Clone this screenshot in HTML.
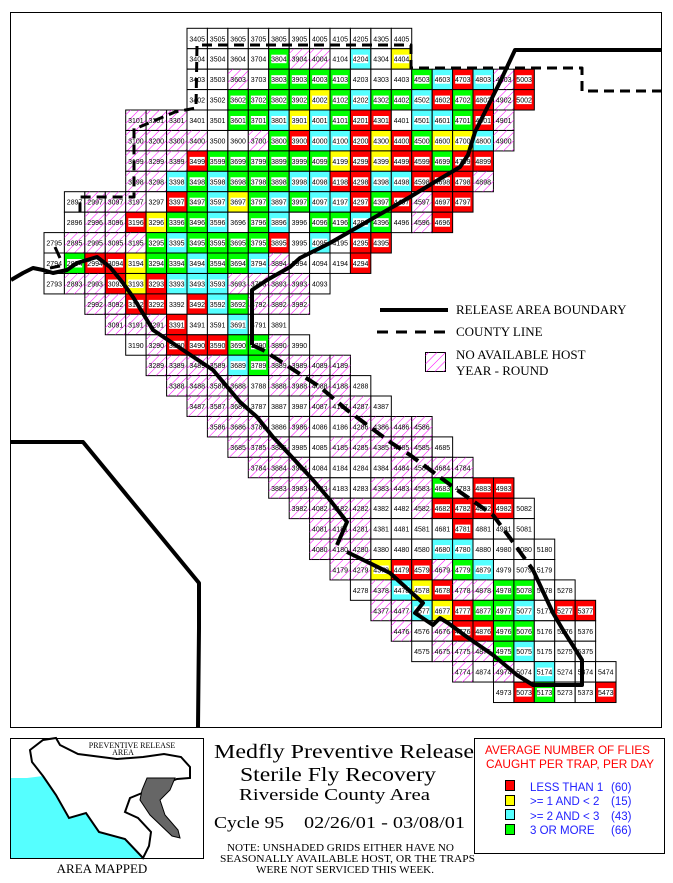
<!DOCTYPE html>
<html><head><meta charset="utf-8"><style>
html,body{margin:0;padding:0;background:#fff;}
svg{display:block;}
.l{font-family:"Liberation Sans",sans-serif;font-size:7px;text-anchor:middle;fill:#000;}
.s{font-family:"Liberation Serif",serif;}
</style></head><body>
<svg width="673" height="883" viewBox="0 0 673 883" xmlns="http://www.w3.org/2000/svg">
<defs>
<pattern id="hp" width="6" height="6" patternUnits="userSpaceOnUse" patternTransform="rotate(45)"><line x1="0" y1="0" x2="0" y2="6" stroke="#ff00ff" stroke-width="1"/></pattern>
<g id="W"><rect y="-13" width="20.43" height="20.43" fill="#fff" stroke="#000" stroke-width="1"/></g>
<g id="H"><rect y="-13" width="20.43" height="20.43" fill="#fff" stroke="#000" stroke-width="1"/><rect y="-13" width="20.43" height="20.43" fill="url(#hp)"/></g>
<g id="R"><rect y="-13" width="20.43" height="20.43" fill="#ff0000" stroke="#000" stroke-width="1"/><rect x="2.6" y="-7" width="15.2" height="8.5" fill="#fff"/></g>
<g id="Y"><rect y="-13" width="20.43" height="20.43" fill="#ffff00" stroke="#000" stroke-width="1"/><rect x="2.6" y="-7" width="15.2" height="8.5" fill="#fff"/></g>
<g id="C"><rect y="-13" width="20.43" height="20.43" fill="#55ffff" stroke="#000" stroke-width="1"/><rect x="2.6" y="-7" width="15.2" height="8.5" fill="#fff"/></g>
<g id="G"><rect y="-13" width="20.43" height="20.43" fill="#00ff00" stroke="#000" stroke-width="1"/><rect x="2.6" y="-7" width="15.2" height="8.5" fill="#fff"/></g>
</defs>
<rect x="10.5" y="12.5" width="651" height="715" fill="#fff" stroke="#000" stroke-width="1"/>

<g class="l">
<g transform="translate(0,41.3)"><use href="#W" x="187"/><text x="197.2">3405</text><use href="#W" x="207.4"/><text x="217.6">3505</text><use href="#W" x="227.9"/><text x="238.1">3605</text><use href="#W" x="248.3"/><text x="258.5">3705</text><use href="#W" x="268.7"/><text x="278.9">3805</text><use href="#W" x="289.2"/><text x="299.4">3905</text><use href="#W" x="309.6"/><text x="319.8">4005</text><use href="#W" x="330"/><text x="340.2">4105</text><use href="#W" x="350.4"/><text x="360.6">4205</text><use href="#W" x="370.9"/><text x="381.1">4305</text><use href="#W" x="391.3"/><text x="401.5">4405</text></g>
<g transform="translate(0,61.7)"><use href="#W" x="187"/><text x="197.2">3404</text><use href="#W" x="207.4"/><text x="217.6">3504</text><use href="#W" x="227.9"/><text x="238.1">3604</text><use href="#W" x="248.3"/><text x="258.5">3704</text><use href="#G" x="268.7"/><text x="278.9">3804</text><use href="#H" x="289.2"/><text x="299.4">3904</text><use href="#H" x="309.6"/><text x="319.8">4004</text><use href="#W" x="330"/><text x="340.2">4104</text><use href="#C" x="350.4"/><text x="360.6">4204</text><use href="#W" x="370.9"/><text x="381.1">4304</text><use href="#Y" x="391.3"/><text x="401.5">4404</text></g>
<g transform="translate(0,82.2)"><use href="#W" x="187"/><text x="197.2">3403</text><use href="#W" x="207.4"/><text x="217.6">3503</text><use href="#H" x="227.9"/><text x="238.1">3603</text><use href="#W" x="248.3"/><text x="258.5">3703</text><use href="#G" x="268.7"/><text x="278.9">3803</text><use href="#G" x="289.2"/><text x="299.4">3903</text><use href="#G" x="309.6"/><text x="319.8">4003</text><use href="#G" x="330"/><text x="340.2">4103</text><use href="#W" x="350.4"/><text x="360.6">4203</text><use href="#W" x="370.9"/><text x="381.1">4303</text><use href="#W" x="391.3"/><text x="401.5">4403</text><use href="#G" x="411.7"/><text x="421.9">4503</text><use href="#C" x="432.2"/><text x="442.4">4603</text><use href="#R" x="452.6"/><text x="462.8">4703</text><use href="#C" x="473"/><text x="483.2">4803</text><use href="#H" x="493.5"/><text x="503.7">4903</text><use href="#R" x="513.9"/><text x="524.1">5003</text></g>
<g transform="translate(0,102.6)"><use href="#W" x="187"/><text x="197.2">3402</text><use href="#W" x="207.4"/><text x="217.6">3502</text><use href="#G" x="227.9"/><text x="238.1">3602</text><use href="#G" x="248.3"/><text x="258.5">3702</text><use href="#G" x="268.7"/><text x="278.9">3802</text><use href="#G" x="289.2"/><text x="299.4">3902</text><use href="#Y" x="309.6"/><text x="319.8">4002</text><use href="#G" x="330"/><text x="340.2">4102</text><use href="#C" x="350.4"/><text x="360.6">4202</text><use href="#G" x="370.9"/><text x="381.1">4302</text><use href="#G" x="391.3"/><text x="401.5">4402</text><use href="#C" x="411.7"/><text x="421.9">4502</text><use href="#R" x="432.2"/><text x="442.4">4602</text><use href="#G" x="452.6"/><text x="462.8">4702</text><use href="#R" x="473"/><text x="483.2">4802</text><use href="#H" x="493.5"/><text x="503.7">4902</text><use href="#R" x="513.9"/><text x="524.1">5002</text></g>
<g transform="translate(0,123)"><use href="#H" x="125.7"/><text x="135.9">3101</text><use href="#H" x="146.1"/><text x="156.3">3201</text><use href="#H" x="166.6"/><text x="176.8">3301</text><use href="#W" x="187"/><text x="197.2">3401</text><use href="#W" x="207.4"/><text x="217.6">3501</text><use href="#G" x="227.9"/><text x="238.1">3601</text><use href="#G" x="248.3"/><text x="258.5">3701</text><use href="#C" x="268.7"/><text x="278.9">3801</text><use href="#Y" x="289.2"/><text x="299.4">3901</text><use href="#C" x="309.6"/><text x="319.8">4001</text><use href="#G" x="330"/><text x="340.2">4101</text><use href="#R" x="350.4"/><text x="360.6">4201</text><use href="#R" x="370.9"/><text x="381.1">4301</text><use href="#W" x="391.3"/><text x="401.5">4401</text><use href="#C" x="411.7"/><text x="421.9">4501</text><use href="#C" x="432.2"/><text x="442.4">4601</text><use href="#G" x="452.6"/><text x="462.8">4701</text><use href="#R" x="473"/><text x="483.2">4801</text><use href="#H" x="493.5"/><text x="503.7">4901</text></g>
<g transform="translate(0,143.5)"><use href="#H" x="125.7"/><text x="135.9">3100</text><use href="#H" x="146.1"/><text x="156.3">3200</text><use href="#H" x="166.6"/><text x="176.8">3300</text><use href="#H" x="187"/><text x="197.2">3400</text><use href="#W" x="207.4"/><text x="217.6">3500</text><use href="#W" x="227.9"/><text x="238.1">3600</text><use href="#H" x="248.3"/><text x="258.5">3700</text><use href="#G" x="268.7"/><text x="278.9">3800</text><use href="#R" x="289.2"/><text x="299.4">3900</text><use href="#C" x="309.6"/><text x="319.8">4000</text><use href="#C" x="330"/><text x="340.2">4100</text><use href="#R" x="350.4"/><text x="360.6">4200</text><use href="#Y" x="370.9"/><text x="381.1">4300</text><use href="#R" x="391.3"/><text x="401.5">4400</text><use href="#G" x="411.7"/><text x="421.9">4500</text><use href="#Y" x="432.2"/><text x="442.4">4600</text><use href="#Y" x="452.6"/><text x="462.8">4700</text><use href="#C" x="473"/><text x="483.2">4800</text><use href="#H" x="493.5"/><text x="503.7">4900</text></g>
<g transform="translate(0,163.9)"><use href="#H" x="125.7"/><text x="135.9">3199</text><use href="#H" x="146.1"/><text x="156.3">3299</text><use href="#H" x="166.6"/><text x="176.8">3399</text><use href="#R" x="187"/><text x="197.2">3499</text><use href="#G" x="207.4"/><text x="217.6">3599</text><use href="#G" x="227.9"/><text x="238.1">3699</text><use href="#G" x="248.3"/><text x="258.5">3799</text><use href="#G" x="268.7"/><text x="278.9">3899</text><use href="#G" x="289.2"/><text x="299.4">3999</text><use href="#G" x="309.6"/><text x="319.8">4099</text><use href="#Y" x="330"/><text x="340.2">4199</text><use href="#R" x="350.4"/><text x="360.6">4299</text><use href="#Y" x="370.9"/><text x="381.1">4399</text><use href="#R" x="391.3"/><text x="401.5">4499</text><use href="#R" x="411.7"/><text x="421.9">4599</text><use href="#G" x="432.2"/><text x="442.4">4699</text><use href="#R" x="452.6"/><text x="462.8">4799</text><use href="#R" x="473"/><text x="483.2">4899</text></g>
<g transform="translate(0,184.3)"><use href="#H" x="125.7"/><text x="135.9">3198</text><use href="#H" x="146.1"/><text x="156.3">3298</text><use href="#C" x="166.6"/><text x="176.8">3398</text><use href="#G" x="187"/><text x="197.2">3498</text><use href="#C" x="207.4"/><text x="217.6">3598</text><use href="#G" x="227.9"/><text x="238.1">3698</text><use href="#G" x="248.3"/><text x="258.5">3798</text><use href="#G" x="268.7"/><text x="278.9">3898</text><use href="#C" x="289.2"/><text x="299.4">3998</text><use href="#C" x="309.6"/><text x="319.8">4098</text><use href="#R" x="330"/><text x="340.2">4198</text><use href="#R" x="350.4"/><text x="360.6">4298</text><use href="#C" x="370.9"/><text x="381.1">4398</text><use href="#C" x="391.3"/><text x="401.5">4498</text><use href="#R" x="411.7"/><text x="421.9">4598</text><use href="#R" x="432.2"/><text x="442.4">4698</text><use href="#R" x="452.6"/><text x="462.8">4798</text><use href="#H" x="473"/><text x="483.2">4898</text></g>
<g transform="translate(0,204.7)"><use href="#W" x="64.4"/><text x="74.6">2897</text><use href="#H" x="84.85"/><text x="95.1">2997</text><use href="#H" x="105.3"/><text x="115.5">3097</text><use href="#H" x="125.7"/><text x="135.9">3197</text><use href="#W" x="146.1"/><text x="156.3">3297</text><use href="#R" x="166.6"/><text x="176.8">3397</text><use href="#G" x="187"/><text x="197.2">3497</text><use href="#C" x="207.4"/><text x="217.6">3597</text><use href="#Y" x="227.9"/><text x="238.1">3697</text><use href="#G" x="248.3"/><text x="258.5">3797</text><use href="#C" x="268.7"/><text x="278.9">3897</text><use href="#G" x="289.2"/><text x="299.4">3997</text><use href="#C" x="309.6"/><text x="319.8">4097</text><use href="#C" x="330"/><text x="340.2">4197</text><use href="#R" x="350.4"/><text x="360.6">4297</text><use href="#G" x="370.9"/><text x="381.1">4397</text><use href="#R" x="391.3"/><text x="401.5">4497</text><use href="#H" x="411.7"/><text x="421.9">4597</text><use href="#R" x="432.2"/><text x="442.4">4697</text><use href="#R" x="452.6"/><text x="462.8">4797</text></g>
<g transform="translate(0,225.2)"><use href="#W" x="64.4"/><text x="74.6">2896</text><use href="#H" x="84.85"/><text x="95.1">2996</text><use href="#H" x="105.3"/><text x="115.5">3096</text><use href="#R" x="125.7"/><text x="135.9">3196</text><use href="#Y" x="146.1"/><text x="156.3">3296</text><use href="#G" x="166.6"/><text x="176.8">3396</text><use href="#G" x="187"/><text x="197.2">3496</text><use href="#C" x="207.4"/><text x="217.6">3596</text><use href="#W" x="227.9"/><text x="238.1">3696</text><use href="#G" x="248.3"/><text x="258.5">3796</text><use href="#C" x="268.7"/><text x="278.9">3896</text><use href="#W" x="289.2"/><text x="299.4">3996</text><use href="#G" x="309.6"/><text x="319.8">4096</text><use href="#G" x="330"/><text x="340.2">4196</text><use href="#C" x="350.4"/><text x="360.6">4296</text><use href="#G" x="370.9"/><text x="381.1">4396</text><use href="#W" x="391.3"/><text x="401.5">4496</text><use href="#H" x="411.7"/><text x="421.9">4596</text><use href="#R" x="432.2"/><text x="442.4">4696</text></g>
<g transform="translate(0,245.6)"><use href="#W" x="44"/><text x="54.2">2795</text><use href="#H" x="64.4"/><text x="74.6">2895</text><use href="#H" x="84.85"/><text x="95.1">2995</text><use href="#H" x="105.3"/><text x="115.5">3095</text><use href="#H" x="125.7"/><text x="135.9">3195</text><use href="#G" x="146.1"/><text x="156.3">3295</text><use href="#C" x="166.6"/><text x="176.8">3395</text><use href="#G" x="187"/><text x="197.2">3495</text><use href="#G" x="207.4"/><text x="217.6">3595</text><use href="#G" x="227.9"/><text x="238.1">3695</text><use href="#G" x="248.3"/><text x="258.5">3795</text><use href="#R" x="268.7"/><text x="278.9">3895</text><use href="#W" x="289.2"/><text x="299.4">3995</text><use href="#C" x="309.6"/><text x="319.8">4095</text><use href="#W" x="330"/><text x="340.2">4195</text><use href="#R" x="350.4"/><text x="360.6">4295</text><use href="#R" x="370.9"/><text x="381.1">4395</text></g>
<g transform="translate(0,266)"><use href="#W" x="44"/><text x="54.2">2794</text><use href="#G" x="64.4"/><text x="74.6">2894</text><use href="#R" x="84.85"/><text x="95.1">2994</text><use href="#R" x="105.3"/><text x="115.5">3094</text><use href="#Y" x="125.7"/><text x="135.9">3194</text><use href="#G" x="146.1"/><text x="156.3">3294</text><use href="#G" x="166.6"/><text x="176.8">3394</text><use href="#C" x="187"/><text x="197.2">3494</text><use href="#G" x="207.4"/><text x="217.6">3594</text><use href="#G" x="227.9"/><text x="238.1">3694</text><use href="#C" x="248.3"/><text x="258.5">3794</text><use href="#H" x="268.7"/><text x="278.9">3894</text><use href="#W" x="289.2"/><text x="299.4">3994</text><use href="#W" x="309.6"/><text x="319.8">4094</text><use href="#W" x="330"/><text x="340.2">4194</text><use href="#R" x="350.4"/><text x="360.6">4294</text></g>
<g transform="translate(0,286.5)"><use href="#W" x="44"/><text x="54.2">2793</text><use href="#H" x="64.4"/><text x="74.6">2893</text><use href="#H" x="84.85"/><text x="95.1">2993</text><use href="#R" x="105.3"/><text x="115.5">3093</text><use href="#Y" x="125.7"/><text x="135.9">3193</text><use href="#R" x="146.1"/><text x="156.3">3293</text><use href="#C" x="166.6"/><text x="176.8">3393</text><use href="#C" x="187"/><text x="197.2">3493</text><use href="#C" x="207.4"/><text x="217.6">3593</text><use href="#H" x="227.9"/><text x="238.1">3693</text><use href="#H" x="248.3"/><text x="258.5">3793</text><use href="#H" x="268.7"/><text x="278.9">3893</text><use href="#H" x="289.2"/><text x="299.4">3993</text><use href="#W" x="309.6"/><text x="319.8">4093</text></g>
<g transform="translate(0,306.9)"><use href="#H" x="84.85"/><text x="95.1">2992</text><use href="#H" x="105.3"/><text x="115.5">3092</text><use href="#R" x="125.7"/><text x="135.9">3192</text><use href="#R" x="146.1"/><text x="156.3">3292</text><use href="#W" x="166.6"/><text x="176.8">3392</text><use href="#R" x="187"/><text x="197.2">3492</text><use href="#C" x="207.4"/><text x="217.6">3592</text><use href="#G" x="227.9"/><text x="238.1">3692</text><use href="#H" x="248.3"/><text x="258.5">3792</text><use href="#H" x="268.7"/><text x="278.9">3892</text><use href="#H" x="289.2"/><text x="299.4">3992</text></g>
<g transform="translate(0,327.3)"><use href="#H" x="105.3"/><text x="115.5">3091</text><use href="#H" x="125.7"/><text x="135.9">3191</text><use href="#H" x="146.1"/><text x="156.3">3291</text><use href="#R" x="166.6"/><text x="176.8">3391</text><use href="#W" x="187"/><text x="197.2">3491</text><use href="#W" x="207.4"/><text x="217.6">3591</text><use href="#C" x="227.9"/><text x="238.1">3691</text><use href="#W" x="248.3"/><text x="258.5">3791</text><use href="#W" x="268.7"/><text x="278.9">3891</text></g>
<g transform="translate(0,347.8)"><use href="#W" x="125.7"/><text x="135.9">3190</text><use href="#H" x="146.1"/><text x="156.3">3290</text><use href="#R" x="166.6"/><text x="176.8">3390</text><use href="#R" x="187"/><text x="197.2">3490</text><use href="#R" x="207.4"/><text x="217.6">3590</text><use href="#G" x="227.9"/><text x="238.1">3690</text><use href="#G" x="248.3"/><text x="258.5">3790</text><use href="#H" x="268.7"/><text x="278.9">3890</text><use href="#W" x="289.2"/><text x="299.4">3990</text></g>
<g transform="translate(0,368.2)"><use href="#H" x="146.1"/><text x="156.3">3289</text><use href="#H" x="166.6"/><text x="176.8">3389</text><use href="#H" x="187"/><text x="197.2">3489</text><use href="#H" x="207.4"/><text x="217.6">3589</text><use href="#C" x="227.9"/><text x="238.1">3689</text><use href="#G" x="248.3"/><text x="258.5">3789</text><use href="#H" x="268.7"/><text x="278.9">3889</text><use href="#H" x="289.2"/><text x="299.4">3989</text><use href="#H" x="309.6"/><text x="319.8">4089</text><use href="#H" x="330"/><text x="340.2">4189</text></g>
<g transform="translate(0,388.6)"><use href="#H" x="166.6"/><text x="176.8">3388</text><use href="#H" x="187"/><text x="197.2">3488</text><use href="#H" x="207.4"/><text x="217.6">3588</text><use href="#H" x="227.9"/><text x="238.1">3688</text><use href="#W" x="248.3"/><text x="258.5">3788</text><use href="#H" x="268.7"/><text x="278.9">3888</text><use href="#H" x="289.2"/><text x="299.4">3988</text><use href="#H" x="309.6"/><text x="319.8">4088</text><use href="#H" x="330"/><text x="340.2">4188</text><use href="#W" x="350.4"/><text x="360.6">4288</text></g>
<g transform="translate(0,409)"><use href="#H" x="187"/><text x="197.2">3487</text><use href="#H" x="207.4"/><text x="217.6">3587</text><use href="#H" x="227.9"/><text x="238.1">3687</text><use href="#W" x="248.3"/><text x="258.5">3787</text><use href="#W" x="268.7"/><text x="278.9">3887</text><use href="#W" x="289.2"/><text x="299.4">3987</text><use href="#H" x="309.6"/><text x="319.8">4087</text><use href="#H" x="330"/><text x="340.2">4187</text><use href="#H" x="350.4"/><text x="360.6">4287</text><use href="#W" x="370.9"/><text x="381.1">4387</text></g>
<g transform="translate(0,429.5)"><use href="#H" x="207.4"/><text x="217.6">3586</text><use href="#H" x="227.9"/><text x="238.1">3686</text><use href="#H" x="248.3"/><text x="258.5">3786</text><use href="#W" x="268.7"/><text x="278.9">3886</text><use href="#H" x="289.2"/><text x="299.4">3986</text><use href="#W" x="309.6"/><text x="319.8">4086</text><use href="#W" x="330"/><text x="340.2">4186</text><use href="#H" x="350.4"/><text x="360.6">4286</text><use href="#H" x="370.9"/><text x="381.1">4386</text><use href="#H" x="391.3"/><text x="401.5">4486</text><use href="#H" x="411.7"/><text x="421.9">4586</text></g>
<g transform="translate(0,449.9)"><use href="#H" x="227.9"/><text x="238.1">3685</text><use href="#H" x="248.3"/><text x="258.5">3785</text><use href="#H" x="268.7"/><text x="278.9">3885</text><use href="#W" x="289.2"/><text x="299.4">3985</text><use href="#W" x="309.6"/><text x="319.8">4085</text><use href="#H" x="330"/><text x="340.2">4185</text><use href="#H" x="350.4"/><text x="360.6">4285</text><use href="#H" x="370.9"/><text x="381.1">4385</text><use href="#H" x="391.3"/><text x="401.5">4485</text><use href="#H" x="411.7"/><text x="421.9">4585</text><use href="#W" x="432.2"/><text x="442.4">4685</text></g>
<g transform="translate(0,470.3)"><use href="#H" x="248.3"/><text x="258.5">3784</text><use href="#H" x="268.7"/><text x="278.9">3884</text><use href="#H" x="289.2"/><text x="299.4">3984</text><use href="#W" x="309.6"/><text x="319.8">4084</text><use href="#W" x="330"/><text x="340.2">4184</text><use href="#W" x="350.4"/><text x="360.6">4284</text><use href="#W" x="370.9"/><text x="381.1">4384</text><use href="#H" x="391.3"/><text x="401.5">4484</text><use href="#H" x="411.7"/><text x="421.9">4584</text><use href="#H" x="432.2"/><text x="442.4">4684</text><use href="#H" x="452.6"/><text x="462.8">4784</text></g>
<g transform="translate(0,490.8)"><use href="#H" x="268.7"/><text x="278.9">3883</text><use href="#H" x="289.2"/><text x="299.4">3983</text><use href="#H" x="309.6"/><text x="319.8">4083</text><use href="#W" x="330"/><text x="340.2">4183</text><use href="#W" x="350.4"/><text x="360.6">4283</text><use href="#H" x="370.9"/><text x="381.1">4383</text><use href="#H" x="391.3"/><text x="401.5">4483</text><use href="#H" x="411.7"/><text x="421.9">4583</text><use href="#G" x="432.2"/><text x="442.4">4683</text><use href="#W" x="452.6"/><text x="462.8">4783</text><use href="#R" x="473"/><text x="483.2">4883</text><use href="#R" x="493.5"/><text x="503.7">4983</text></g>
<g transform="translate(0,511.2)"><use href="#H" x="289.2"/><text x="299.4">3982</text><use href="#H" x="309.6"/><text x="319.8">4082</text><use href="#H" x="330"/><text x="340.2">4182</text><use href="#H" x="350.4"/><text x="360.6">4282</text><use href="#W" x="370.9"/><text x="381.1">4382</text><use href="#W" x="391.3"/><text x="401.5">4482</text><use href="#H" x="411.7"/><text x="421.9">4582</text><use href="#R" x="432.2"/><text x="442.4">4682</text><use href="#R" x="452.6"/><text x="462.8">4782</text><use href="#R" x="473"/><text x="483.2">4882</text><use href="#R" x="493.5"/><text x="503.7">4982</text><use href="#W" x="513.9"/><text x="524.1">5082</text></g>
<g transform="translate(0,531.6)"><use href="#H" x="309.6"/><text x="319.8">4081</text><use href="#H" x="330"/><text x="340.2">4181</text><use href="#H" x="350.4"/><text x="360.6">4281</text><use href="#W" x="370.9"/><text x="381.1">4381</text><use href="#W" x="391.3"/><text x="401.5">4481</text><use href="#W" x="411.7"/><text x="421.9">4581</text><use href="#W" x="432.2"/><text x="442.4">4681</text><use href="#R" x="452.6"/><text x="462.8">4781</text><use href="#W" x="473"/><text x="483.2">4881</text><use href="#W" x="493.5"/><text x="503.7">4981</text><use href="#W" x="513.9"/><text x="524.1">5081</text></g>
<g transform="translate(0,552.1)"><use href="#H" x="309.6"/><text x="319.8">4080</text><use href="#H" x="330"/><text x="340.2">4180</text><use href="#H" x="350.4"/><text x="360.6">4280</text><use href="#W" x="370.9"/><text x="381.1">4380</text><use href="#W" x="391.3"/><text x="401.5">4480</text><use href="#W" x="411.7"/><text x="421.9">4580</text><use href="#C" x="432.2"/><text x="442.4">4680</text><use href="#C" x="452.6"/><text x="462.8">4780</text><use href="#W" x="473"/><text x="483.2">4880</text><use href="#W" x="493.5"/><text x="503.7">4980</text><use href="#W" x="513.9"/><text x="524.1">5080</text><use href="#W" x="534.3"/><text x="544.5">5180</text></g>
<g transform="translate(0,572.5)"><use href="#H" x="330"/><text x="340.2">4179</text><use href="#H" x="350.4"/><text x="360.6">4279</text><use href="#Y" x="370.9"/><text x="381.1">4379</text><use href="#R" x="391.3"/><text x="401.5">4479</text><use href="#R" x="411.7"/><text x="421.9">4579</text><use href="#H" x="432.2"/><text x="442.4">4679</text><use href="#G" x="452.6"/><text x="462.8">4779</text><use href="#C" x="473"/><text x="483.2">4879</text><use href="#W" x="493.5"/><text x="503.7">4979</text><use href="#W" x="513.9"/><text x="524.1">5079</text><use href="#W" x="534.3"/><text x="544.5">5179</text></g>
<g transform="translate(0,592.9)"><use href="#W" x="350.4"/><text x="360.6">4278</text><use href="#H" x="370.9"/><text x="381.1">4378</text><use href="#C" x="391.3"/><text x="401.5">4478</text><use href="#Y" x="411.7"/><text x="421.9">4578</text><use href="#R" x="432.2"/><text x="442.4">4678</text><use href="#H" x="452.6"/><text x="462.8">4778</text><use href="#H" x="473"/><text x="483.2">4878</text><use href="#G" x="493.5"/><text x="503.7">4978</text><use href="#G" x="513.9"/><text x="524.1">5078</text><use href="#W" x="534.3"/><text x="544.5">5178</text><use href="#W" x="554.7"/><text x="564.9">5278</text></g>
<g transform="translate(0,613.3)"><use href="#H" x="370.9"/><text x="381.1">4377</text><use href="#H" x="391.3"/><text x="401.5">4477</text><use href="#C" x="411.7"/><text x="421.9">4577</text><use href="#Y" x="432.2"/><text x="442.4">4677</text><use href="#R" x="452.6"/><text x="462.8">4777</text><use href="#G" x="473"/><text x="483.2">4877</text><use href="#G" x="493.5"/><text x="503.7">4977</text><use href="#C" x="513.9"/><text x="524.1">5077</text><use href="#W" x="534.3"/><text x="544.5">5177</text><use href="#R" x="554.7"/><text x="564.9">5277</text><use href="#R" x="575.2"/><text x="585.4">5377</text></g>
<g transform="translate(0,633.8)"><use href="#H" x="391.3"/><text x="401.5">4476</text><use href="#W" x="411.7"/><text x="421.9">4576</text><use href="#H" x="432.2"/><text x="442.4">4676</text><use href="#R" x="452.6"/><text x="462.8">4776</text><use href="#R" x="473"/><text x="483.2">4876</text><use href="#G" x="493.5"/><text x="503.7">4976</text><use href="#G" x="513.9"/><text x="524.1">5076</text><use href="#W" x="534.3"/><text x="544.5">5176</text><use href="#W" x="554.7"/><text x="564.9">5276</text><use href="#W" x="575.2"/><text x="585.4">5376</text></g>
<g transform="translate(0,654.2)"><use href="#W" x="411.7"/><text x="421.9">4575</text><use href="#H" x="432.2"/><text x="442.4">4675</text><use href="#H" x="452.6"/><text x="462.8">4775</text><use href="#H" x="473"/><text x="483.2">4875</text><use href="#G" x="493.5"/><text x="503.7">4975</text><use href="#C" x="513.9"/><text x="524.1">5075</text><use href="#W" x="534.3"/><text x="544.5">5175</text><use href="#W" x="554.7"/><text x="564.9">5275</text><use href="#W" x="575.2"/><text x="585.4">5375</text></g>
<g transform="translate(0,674.6)"><use href="#H" x="452.6"/><text x="462.8">4774</text><use href="#W" x="473"/><text x="483.2">4874</text><use href="#H" x="493.5"/><text x="503.7">4974</text><use href="#W" x="513.9"/><text x="524.1">5074</text><use href="#C" x="534.3"/><text x="544.5">5174</text><use href="#W" x="554.7"/><text x="564.9">5274</text><use href="#W" x="575.2"/><text x="585.4">5374</text><use href="#W" x="595.6"/><text x="605.8">5474</text></g>
<g transform="translate(0,695.1)"><use href="#W" x="493.5"/><text x="503.7">4973</text><use href="#R" x="513.9"/><text x="524.1">5073</text><use href="#G" x="534.3"/><text x="544.5">5173</text><use href="#W" x="554.7"/><text x="564.9">5273</text><use href="#W" x="575.2"/><text x="585.4">5373</text><use href="#R" x="595.6"/><text x="605.8">5473</text></g>
</g>

<g fill="none" stroke="#000" stroke-linejoin="round">
<path stroke-width="4" d="M662,50 L515,50 L500,82 L487,108 L475,132 L468,155 L460,167 L433,183 L410,197 L370,220 L330,243 L300,258 L290,267 L267,280 L252,290 L252,345"/>
<path stroke-width="4" stroke-dasharray="14 7" d="M252,345 L263,350 L320,387 L347,410 L370,427 L390,442 L410,455 L433,472 L460,492 L493,515 L510,538 L533,570"/>
<path stroke-width="4" d="M533,570 L553,613 L563,630 L582,660 L582,685 L533,685 L517,675 L493,655 L467,637 L448,623 L440,618 L433,625 L415,613 L423,603 L390,573 L347,552 M337,545 L347,522 L330,500 L313,480 L290,455 L273,437 L257,417 L240,402 L213,370 L183,350 L153,330 L133,297 L123,283 L110,267 L97,257 L77,263 L67,270 L53,273 L43,270 L33,268 L23,273 L11,280"/>
<path stroke-width="3" stroke-dasharray="10 6" d="M662,91 L582,91 L582,68 L411,68 L411,45 L197,45 L196,108 L175,112 L137,128 L134,128 L134,197 L80,197 L80,215"/>
<path stroke-width="3" d="M55,247 L60,258 M50,268 L60,266"/>
<path stroke-width="4" d="M11,442 L83,442 L199,583 L199,628 L198,727"/>
</g>

<!-- map legend -->
<line x1="380" y1="310" x2="448" y2="310" stroke="#000" stroke-width="4"/>
<line x1="377" y1="332" x2="448" y2="332" stroke="#000" stroke-width="3" stroke-dasharray="11 8"/>
<rect x="425.5" y="352.5" width="20" height="19" fill="#fff" stroke="#000"/>
<rect x="425.5" y="352.5" width="20" height="19" fill="url(#hp)"/>
<g class="s" font-size="13" fill="#000">
<text x="456" y="314">RELEASE AREA BOUNDARY</text>
<text x="456" y="336">COUNTY LINE</text>
<text x="456" y="359">NO AVAILABLE HOST</text>
<text x="456" y="375">YEAR - ROUND</text>
</g>

<!-- inset -->
<rect x="10.5" y="738.5" width="193" height="120" fill="#fff" stroke="#000"/>
<polygon points="11,778 27,778 43,776 56,795 69,818 86,813 99,832 125,839 143,858 11,858" fill="#55ffff"/>
<polygon points="43,776 32,762 30,750 43,740 56,738 60,745 78,754 117,759 143,757 164,754 181,757 190,767 190,778 177,779 164,784 147,791 130,798 125,812 138,818 151,832 149,846 143,858 125,839 99,832 86,813 69,818 56,795" fill="#fff" stroke="#000" stroke-width="2"/>
<polygon points="147,778 175,778 170,790 160,800 165,815 178,830 180,838 172,836 150,815 140,800 142,790" fill="#666" stroke="#000" stroke-width="1"/>
<g class="s" font-size="8" text-anchor="middle"><text x="132" y="748">PREVENTIVE RELEASE</text><text x="123" y="755">AREA</text></g>
<text class="s" x="102" y="873" font-size="13" text-anchor="middle">AREA MAPPED</text>

<!-- title -->
<g class="s" fill="#000">
<text x="214" y="758" font-size="20" textLength="260" lengthAdjust="spacingAndGlyphs">Medfly Preventive Release</text>
<text x="240" y="781" font-size="20" textLength="196" lengthAdjust="spacingAndGlyphs">Sterile Fly Recovery</text>
<text x="239" y="800" font-size="17" textLength="191" lengthAdjust="spacingAndGlyphs">Riverside County Area</text>
<text x="214" y="828" font-size="17" textLength="70" lengthAdjust="spacingAndGlyphs">Cycle 95</text>
<text x="304" y="828" font-size="17" textLength="161" lengthAdjust="spacingAndGlyphs">02/26/01 - 03/08/01</text>
<text x="227" y="851" font-size="10" textLength="227" lengthAdjust="spacingAndGlyphs">NOTE: UNSHADED GRIDS EITHER HAVE NO</text>
<text x="220" y="862" font-size="10" textLength="255" lengthAdjust="spacingAndGlyphs">SEASONALLY AVAILABLE HOST, OR THE TRAPS</text>
<text x="256" y="873" font-size="10" textLength="178" lengthAdjust="spacingAndGlyphs">WERE NOT SERVICED THIS WEEK.</text>
</g>

<!-- legend -->
<rect x="474.5" y="738.5" width="190" height="115" fill="#fff" stroke="#000"/>
<g font-family="Liberation Sans, sans-serif" font-size="11.5">
<text x="485" y="754" fill="#ff0000" textLength="165" lengthAdjust="spacingAndGlyphs">AVERAGE NUMBER OF FLIES</text>
<text x="486" y="768" fill="#ff0000" textLength="168" lengthAdjust="spacingAndGlyphs">CAUGHT PER TRAP, PER DAY</text>
<rect x="505.5" y="780.5" width="9" height="10" fill="#ff0000" stroke="#000"/>
<rect x="505.5" y="795.5" width="9" height="10" fill="#ffff00" stroke="#000"/>
<rect x="505.5" y="809.5" width="9" height="10" fill="#55ffff" stroke="#000"/>
<rect x="505.5" y="824.5" width="9" height="10" fill="#00ff00" stroke="#000"/>
<g fill="#2222ff">
<text x="530" y="791">LESS THAN 1</text><text x="611" y="791">(60)</text>
<text x="530" y="805">&gt;= 1 AND &lt; 2</text><text x="611" y="805">(15)</text>
<text x="530" y="820">&gt;= 2 AND &lt; 3</text><text x="611" y="820">(43)</text>
<text x="530" y="834">3 OR MORE</text><text x="611" y="834">(66)</text>
</g>
</g>
</svg>
</body></html>
